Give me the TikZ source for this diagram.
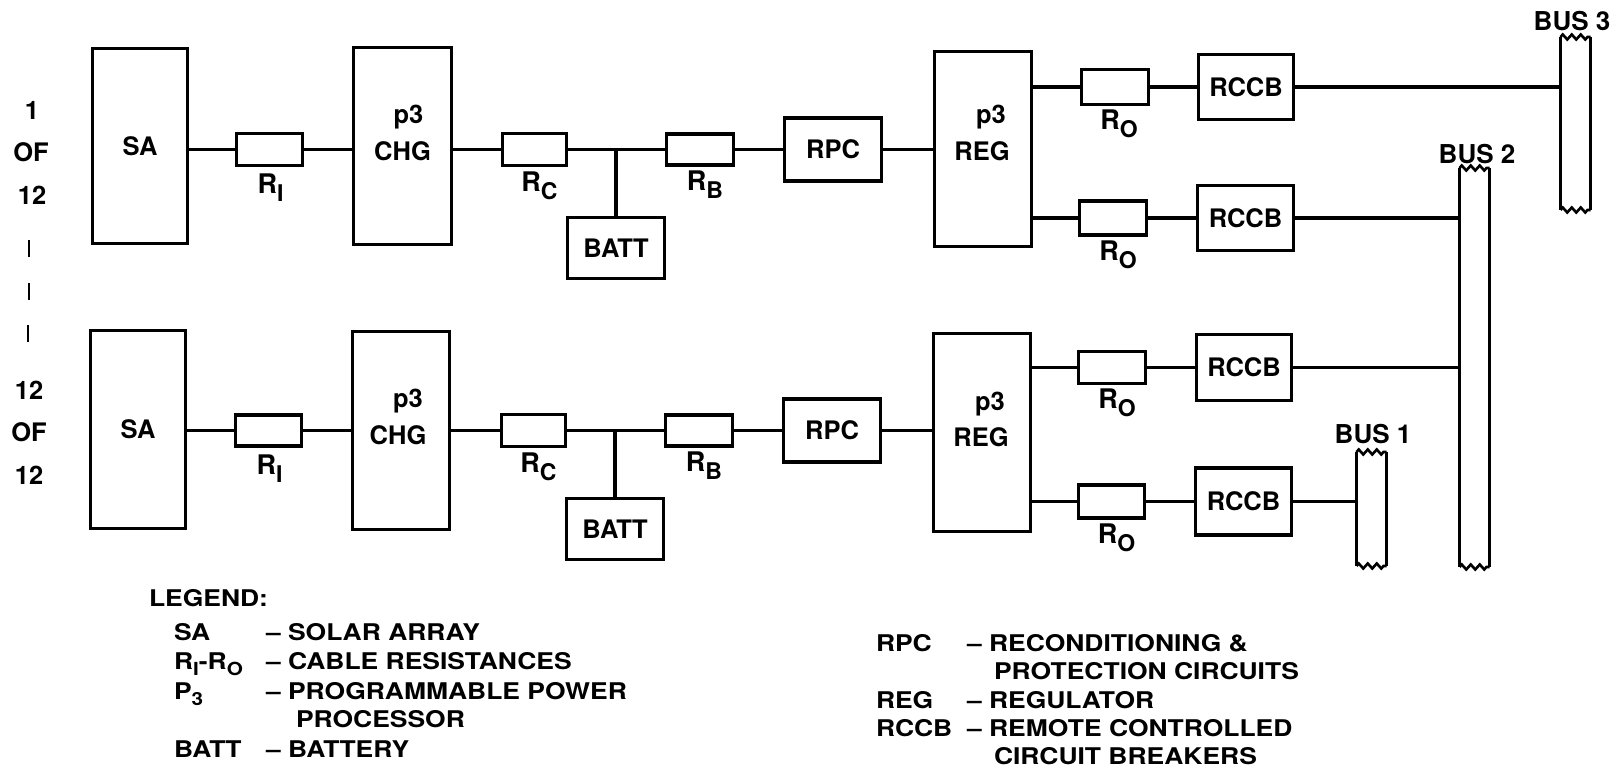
\documentclass[tikz,border=0pt]{standalone}
\usepackage{fontspec}
\setmainfont{TeX Gyre Heros}
\newfontfamily\legfam[FakeStretch=1.15]{TeX Gyre Heros}
\usetikzlibrary{decorations.pathmorphing}
\newcommand\bxfont{\bfseries\fontsize{25.5}{30}\selectfont}
\newcommand\busfont{\bfseries\fontsize{26}{30}\selectfont}
\newcommand\legfont{\legfam\bfseries\fontsize{23}{27}\selectfont}
\newcommand\rlab[1]{\bfseries\fontsize{27}{30}\selectfont R\raisebox{-8pt}{\fontsize{23}{23}\selectfont #1}}
\newcommand\lsub[1]{\raisebox{-6pt}{\fontsize{18}{18}\selectfont #1}}
\begin{document}
\begin{tikzpicture}[x=1pt,y=-1pt,
  every node/.style={inner sep=0pt,outer sep=0pt},
  blk/.style={draw,line width=3.3pt,font=\bxfont},
  res/.style={draw,line width=3.3pt},
  wire/.style={line width=3.3pt},
  txt/.style={font=\bxfont},
  rl/.style={anchor=base},
  bus/.style={minimum width=30pt},
  busl/.style={font=\busfont},
  leg/.style={font=\legfont,anchor=base west},
  zig/.style={decorate,decoration={zigzag,segment length=9pt,amplitude=2.5pt}}
]
\useasboundingbox (0,0) rectangle (1623,771);

% ---------- left texts ----------
\node[txt] (t1) at (32,110) {1};
\node[txt] (t2) at (31,152) {OF};
\node[txt] (t3) at (32,195) {12};
\draw[line width=2.4pt] (29,240) -- (29,257);
\draw[line width=2.4pt] (29,283) -- (29,300);
\draw[line width=2.4pt] (28,325) -- (28,342);
\node[txt] (t4) at (29,390) {12};
\node[txt] (t5) at (29,432) {OF};
\node[txt] (t6) at (29,475) {12};

% ---------- row A ----------
\node[blk,minimum width=95pt,minimum height=195pt] (SA1) at (140,146) {SA};
\node[res,minimum width=66pt,minimum height=32pt] (RI1) at (269.5,149.5) {};
\node[blk,minimum width=98pt,minimum height=197pt] (CHG1) at (402.5,146) {};
\node[res,minimum width=64pt,minimum height=32pt] (RC1) at (534.5,149.5) {};
\node[blk,minimum width=97pt,minimum height=61pt] (BATT1) at (616,248) {BATT};
\node[res,minimum width=67pt,minimum height=31pt] (RB1) at (700,149.5) {};
\node[blk,minimum width=97pt,minimum height=63pt] (RPC1) at (833,149.5) {RPC};
\node[blk,minimum width=97pt,minimum height=195pt] (REG1) at (983,149) {};
\node[res,minimum width=67pt,minimum height=35pt] (RO1a) at (1115,87) {};
\node[blk,minimum width=95pt,minimum height=65pt] (RCCB1a) at (1246,87) {RCCB};
\node[res,minimum width=67pt,minimum height=34pt] (RO1b) at (1113,218) {};
\node[blk,minimum width=96pt,minimum height=65pt] (RCCB1b) at (1245.5,218) {RCCB};

\node[txt,anchor=base] (CHG1p) at ([shift={(6,-23)}]CHG1.center) {p3};
\node[txt,anchor=base] (CHG1t) at ([shift={(0,14)}]CHG1.center) {CHG};
\node[txt,anchor=base] (REG1p) at ([shift={(8,-26)}]REG1.center) {p3};
\node[txt,anchor=base] (REG1t) at ([shift={(-1,11)}]REG1.center) {REG};

\node[rl] (RI1l) at ([shift={(1,28)}]RI1.south) {\rlab{I}};
\node[rl] (RC1l) at ([shift={(5,26)}]RC1.south) {\rlab{C}};
\node[rl] (RB1l) at ([shift={(5,25)}]RB1.south) {\rlab{B}};
\node[rl] (RO1al) at ([shift={(4,25)}]RO1a.south) {\rlab{O}};
\node[rl] (RO1bl) at ([shift={(5,25)}]RO1b.south) {\rlab{O}};

\draw[wire] (SA1.east |- RI1.west) -- (RI1.west);
\draw[wire] (RI1.east) -- (RI1.east -| CHG1.west);
\draw[wire] (CHG1.east |- RC1.west) -- (RC1.west);
\draw[wire] (RC1.east) -- (RB1.west);
\coordinate (J1) at (BATT1.north |- RC1.east);
\draw[wire] (J1) -- (BATT1.north);
\draw[wire] (RB1.east) -- (RPC1.west);
\draw[wire] (RPC1.east) -- (RPC1.east -| REG1.west);
\draw[wire] (REG1.east |- RO1a.west) -- (RO1a.west);
\draw[wire] (RO1a.east) -- (RCCB1a.west);
\draw[wire] (REG1.east |- RO1b.west) -- (RO1b.west);
\draw[wire] (RO1b.east) -- (RCCB1b.west);

% ---------- row B ----------
\node[blk,minimum width=95pt,minimum height=198pt] (SA2) at (138,429.5) {SA};
\node[res,minimum width=66pt,minimum height=31pt] (RI2) at (268.5,430.5) {};
\node[blk,minimum width=97pt,minimum height=198pt] (CHG2) at (401,430.5) {};
\node[res,minimum width=64pt,minimum height=32pt] (RC2) at (533.5,430.5) {};
\node[blk,minimum width=97pt,minimum height=61pt] (BATT2) at (615,529) {BATT};
\node[res,minimum width=67pt,minimum height=31pt] (RB2) at (699,430.5) {};
\node[blk,minimum width=97pt,minimum height=63pt] (RPC2) at (832,430.5) {RPC};
\node[blk,minimum width=97pt,minimum height=198pt] (REG2) at (982,432.5) {};
\node[res,minimum width=67pt,minimum height=32pt] (RO2a) at (1112,367.5) {};
\node[blk,minimum width=95pt,minimum height=66pt] (RCCB2a) at (1244,367.5) {RCCB};
\node[res,minimum width=66pt,minimum height=33pt] (RO2b) at (1111.5,501.5) {};
\node[blk,minimum width=96pt,minimum height=67pt] (RCCB2b) at (1243.5,501.5) {RCCB};

\node[txt,anchor=base] (CHG2p) at ([shift={(7,-23)}]CHG2.center) {p3};
\node[txt,anchor=base] (CHG2t) at ([shift={(-3,14)}]CHG2.center) {CHG};
\node[txt,anchor=base] (REG2p) at ([shift={(8,-22)}]REG2.center) {p3};
\node[txt,anchor=base] (REG2t) at ([shift={(-1,14)}]REG2.center) {REG};

\node[rl] (RI2l) at ([shift={(1,28)}]RI2.south) {\rlab{I}};
\node[rl] (RC2l) at ([shift={(5,26)}]RC2.south) {\rlab{C}};
\node[rl] (RB2l) at ([shift={(5,25)}]RB2.south) {\rlab{B}};
\node[rl] (RO2al) at ([shift={(5,25)}]RO2a.south) {\rlab{O}};
\node[rl] (RO2bl) at ([shift={(5,25)}]RO2b.south) {\rlab{O}};

\draw[wire] (SA2.east |- RI2.west) -- (RI2.west);
\draw[wire] (RI2.east) -- (RI2.east -| CHG2.west);
\draw[wire] (CHG2.east |- RC2.west) -- (RC2.west);
\draw[wire] (RC2.east) -- (RB2.west);
\coordinate (J2) at (BATT2.north |- RC2.east);
\draw[wire] (J2) -- (BATT2.north);
\draw[wire] (RB2.east) -- (RPC2.west);
\draw[wire] (RPC2.east) -- (RPC2.east -| REG2.west);
\draw[wire] (REG2.east |- RO2a.west) -- (RO2a.west);
\draw[wire] (RO2a.east) -- (RCCB2a.west);
\draw[wire] (REG2.east |- RO2b.west) -- (RO2b.west);
\draw[wire] (RO2b.east) -- (RCCB2b.west);

% ---------- buses ----------
\node[bus,minimum height=173pt] (BUS3) at (1575.5,123.5) {};
\node[bus,minimum height=399pt] (BUS2) at (1474.5,367.5) {};
\node[bus,minimum height=114pt] (BUS1) at (1371.5,509) {};
\foreach \b in {BUS1,BUS2,BUS3}{
  \draw[wire] (\b.north west) -- (\b.south west);
  \draw[wire] (\b.north east) -- (\b.south east);
  \draw[line width=2.6pt,zig] (\b.north west) -- (\b.north east);
  \draw[line width=2.6pt,zig] (\b.south west) -- (\b.south east);
}
\node[busl] (BUS3l) at (1572,21) {BUS 3};
\node[busl] (BUS2l) at (1477,154) {BUS 2};
\node[busl] (BUS1l) at (1373,434) {BUS 1};

\draw[wire] (RCCB1a.east) -- (RCCB1a.east -| BUS3.west);
\draw[wire] (RCCB1b.east) -- (RCCB1b.east -| BUS2.west);
\draw[wire] (RCCB2a.east) -- (RCCB2a.east -| BUS2.west);
\draw[wire] (RCCB2b.east) -- (RCCB2b.east -| BUS1.west);

% ---------- legend ----------
\node[leg] (lg0) at (149,606) {LEGEND:};
\node[leg] (lg1) at (174,640) {SA};
\node[leg] (lg1d) at (266,640) {– SOLAR ARRAY};
\node[leg] (lg2) at (174,669) {R\lsub{I}-R\lsub{O}};
\node[leg] (lg2d) at (266,669) {– CABLE RESISTANCES};
\node[leg] (lg3) at (174,699) {P\lsub{3}};
\node[leg] (lg3d) at (266,699) {– PROGRAMMABLE POWER};
\node[leg] (lg4) at (296,727) {PROCESSOR};
\node[leg] (lg5) at (174,757) {BATT};
\node[leg] (lg5d) at (266,757) {– BATTERY};

\node[leg] (lr1) at (876,651) {RPC};
\node[leg] (lr1d) at (967,651) {– RECONDITIONING \&};
\node[leg] (lr2) at (994,679) {PROTECTION CIRCUITS};
\node[leg] (lr3) at (876,708) {REG};
\node[leg] (lr3d) at (967,708) {– REGULATOR};
\node[leg] (lr4) at (876,736) {RCCB};
\node[leg] (lr4d) at (967,736) {– REMOTE CONTROLLED};
\node[leg] (lr5) at (994,764) {CIRCUIT BREAKERS};
\end{tikzpicture}
\end{document}
